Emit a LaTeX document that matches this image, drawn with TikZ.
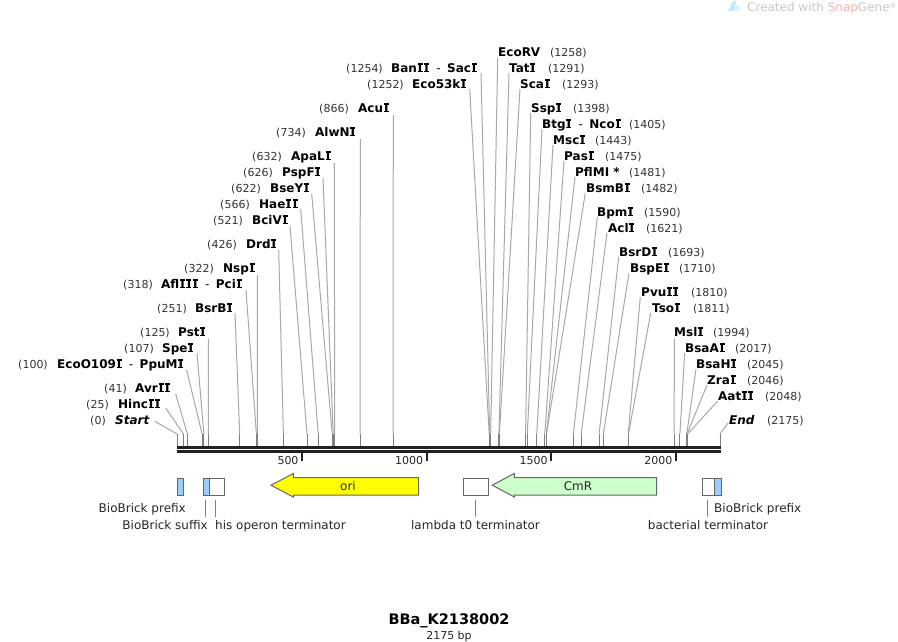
\documentclass[tikz,border=0pt]{standalone}
\usepackage{fontspec}
\setmainfont{DejaVu Sans}
\definecolor{stubcol}{HTML}{808080}
\definecolor{slantcol}{HTML}{A8A8A8}
\definecolor{edgecol}{HTML}{666666}
\definecolor{spine}{HTML}{222222}
\definecolor{biob}{HTML}{99CCFF}
\definecolor{cmrfill}{HTML}{CCFFCC}
\definecolor{orifill}{RGB}{255,255,0}
\tikzset{
  sitename/.style={inner sep=0pt,text=black,font=\fontsize{12}{14}\selectfont\bfseries},
  sitepos/.style={inner sep=0pt,text=black!80,font=\fontsize{11}{13}\selectfont},
  slant/.style={draw=slantcol,line width=1pt},
  stub/.style={draw=stubcol,line width=1pt},
  feat/.style={draw=edgecol,line width=1pt},
  featlabel/.style={inner sep=0pt,text=black!85,font=\fontsize{12}{14}\selectfont},
  featline/.style={draw=stubcol,line width=0.8pt},
  ticklabel/.style={inner sep=0pt,text=black!85,font=\fontsize{11}{13}\selectfont,anchor=base east},
  tickmark/.style={draw=spine,line width=2pt},
  backbone/.style={draw=spine,line width=3pt},
}
% capital I with slab serifs, as the reference face draws it
\newcommand\J{\rlap{\kern0.7pt\rule{5pt}{1.4pt}}\rlap{\kern0.7pt\raisebox{7.35pt}{\rule{5pt}{1.4pt}}}\makebox[6.4pt]{I}}
\newcommand\lsite[9]{%
  \node[sitename,anchor=base west] (n#1) at (#5,#6+4) {#3};
  \node[sitepos,anchor=base east] (p#1) at (#4,#6+4) {(#2)};
  \coordinate (t#1) at (#7,#8);
  \coordinate (m#1) at (#9-0.8,434);
  \coordinate (b#1) at (#9-0.8,446);
  \draw[slant] (t#1) -- (m#1);
  \draw[stub] (m#1) -- (b#1);
}
\newcommand\rsite[9]{%
  \node[sitename,anchor=base west] (n#1) at (#5,#6+4) {#3};
  \node[sitepos,anchor=base west] (p#1) at (#4,#6+4) {(#2)};
  \coordinate (t#1) at (#7,#8);
  \coordinate (m#1) at (#9-0.8,434);
  \coordinate (b#1) at (#9-0.8,446);
  \draw[slant] (t#1) -- (m#1);
  \draw[stub] (m#1) -- (b#1);
}
\newcommand\dashsep{\kern6.5pt{\mdseries -}\kern6.5pt}
\begin{document}
\begin{tikzpicture}[x=1pt,y=-1pt]
\useasboundingbox (0,0) rectangle (898,641);
% watermark
\fill[cyan!25] (733,1) -- (736,1) -- (734.5,11) -- (728,11) -- cycle;
\fill[cyan!15] (737,5) -- (740,9) -- (737,12) -- (735,9) -- cycle;
\node[inner sep=0pt,anchor=base west,font=\fontsize{12}{14}\selectfont,text=black!22] (wm) at (747,11) {Created with \textcolor{red!30}{Snap}Gene\raisebox{3pt}{\fontsize{7}{8}\selectfont®}};
% sites, left side
\lsite{a}{0}{\itshape Start}{106}{115}{420}{155}{421.5}{178}
\lsite{b}{25}{Hinc\J\J}{109}{118}{404}{165.7}{408}{184.2}
\lsite{c}{41}{Avr\J\J}{127}{135}{388}{175.7}{394}{188.2}
\lsite{d}{100}{EcoO109\J\dashsep PpuM\J}{48}{57}{364}{186.7}{370}{202.9}
\lsite{e}{107}{Spe\J}{154}{162}{348}{197}{353}{204.7}
\lsite{f}{125}{Pst\J}{170}{178}{332}{208.5}{339}{209.1}
\lsite{g}{251}{BsrB\J}{187}{195}{308}{235}{313}{240.5}
\lsite{h}{318}{Afl\J\J\J\dashsep Pci\J}{153}{161}{284}{246}{290}{257.2}
\lsite{i}{322}{Nsp\J}{214}{223}{268}{257.3}{275}{258.2}
\lsite{j}{426}{Drd\J}{237}{246}{244}{278.7}{250}{284.2}
\lsite{k}{521}{BciV\J}{243}{252}{220}{290}{226}{307.8}
\lsite{l}{566}{Hae\J\J}{250}{259}{204}{300.7}{209}{319}
\lsite{m}{622}{BseY\J}{261}{270}{188}{311.7}{194}{333}
\lsite{o}{626}{PspF\J}{273}{282}{172}{323}{178}{334}
\lsite{q}{632}{ApaL\J}{282}{291}{156}{334.3}{163}{335.5}
\lsite{r}{734}{AlwN\J}{306}{315}{132}{360.3}{139}{360.9}
\lsite{s}{866}{Acu\J}{349}{358}{108}{393.3}{115}{393.8}
\lsite{u}{1252}{Eco53k\J}{404}{412}{84}{469.7}{89}{490}
\lsite{v}{1254}{Ban\J\J\dashsep Sac\J}{383}{391}{68}{481}{73}{490.5}
% sites, right side
\rsite{A}{1258}{EcoRV}{550}{498}{52}{497.7}{58}{491.5}
\rsite{B}{1291}{Tat\J}{548}{509}{68}{509}{73}{499.7}
\rsite{C}{1293}{Sca\J}{562}{520}{84}{520}{89}{500.2}
\rsite{D}{1398}{Ssp\J}{573}{531}{108}{530.7}{113}{526.4}
\rsite{E}{1405}{Btg\J\dashsep Nco\J}{629}{542}{124}{542}{129}{528.1}
\rsite{F}{1443}{Msc\J}{595}{553}{140}{553}{145}{537.6}
\rsite{G}{1475}{Pas\J}{605}{564}{156}{564}{161}{545.6}
\rsite{H}{1481}{PflMI *}{629}{575}{172}{575}{177}{547.1}
\rsite{I}{1482}{BsmB\J}{641}{586}{188}{585.3}{193}{547.3}
\rsite{J}{1590}{Bpm\J}{644}{597}{212}{597.3}{217}{574.2}
\rsite{K}{1621}{Acl\J}{646}{608}{228}{607}{233}{582}
\rsite{L}{1693}{BsrD\J}{668}{619}{252}{618.7}{257}{599.9}
\rsite{M}{1710}{BspE\J}{679}{630}{268}{629}{273}{604.1}
\rsite{N}{1810}{Pvu\J\J}{691}{641}{292}{640.3}{297}{629}
\rsite{O}{1811}{Tso\J}{693}{652}{308}{650.7}{313}{629.3}
\rsite{P}{1994}{Msl\J}{713}{674}{332}{674.3}{339}{675}
\rsite{Q}{2017}{BsaA\J}{735}{685}{348}{684.7}{353}{680.7}
\rsite{R}{2045}{BsaH\J}{747}{696}{364}{696}{369}{687.6}
\rsite{S}{2046}{Zra\J}{747}{707}{380}{707}{385}{687.9}
\rsite{T}{2048}{Aat\J\J}{765}{718}{396}{717.7}{401}{688.4}
\rsite{U}{2175}{\itshape End}{767}{729}{420}{728}{423}{720.8}
% backbone
\coordinate (bbA) at (177,447.5);
\coordinate (bbB) at (721,447.5);
\coordinate (bbC) at (177,451.5);
\coordinate (bbD) at (721,451.5);
\draw[backbone] (bbA) -- (bbB);
\draw[backbone] (bbC) -- (bbD);
% ticks
\foreach \tx/\tl/\tn in {302.2/500/ta,426.8/1000/tb,551.4/1500/tc,676/2000/td}{
  \coordinate (\tn u) at (\tx,453);
  \coordinate (\tn d) at (\tx,461);
  \draw[tickmark] (\tn u) -- (\tn d);
  \node[ticklabel] (\tn l) at (\tx-3.5,464) {\tl};
}
% features
\node[feat,fill=biob,minimum width=6pt,minimum height=17.5pt,inner sep=0pt,anchor=north west] (fa) at (177.3,477.5) {};
\node[feat,fill=biob,minimum width=6pt,minimum height=17.5pt,inner sep=0pt,anchor=north west] (fb) at (203.3,477.5) {};
\node[feat,fill=white,minimum width=14.5pt,minimum height=17.5pt,inner sep=0pt,anchor=north west] (fc) at (209.3,477.5) {};
\node[feat,fill=white,minimum width=24.4pt,minimum height=17.5pt,inner sep=0pt,anchor=north west] (fd) at (463.3,477.5) {};
\node[feat,fill=white,minimum width=11.7pt,minimum height=17.5pt,inner sep=0pt,anchor=north west] (ff) at (702.3,477.5) {};
\node[feat,fill=biob,minimum width=6.5pt,minimum height=17.5pt,inner sep=0pt,anchor=north west] (fg) at (714,477.5) {};
\draw[feat,fill=orifill] (418.7,477.5) -- (293.3,477.5) -- (293.3,473.5) -- (271,485.2) -- (293.3,497) -- (293.3,495) -- (418.7,495) -- cycle;
\node[inner sep=0pt,font=\fontsize{12}{14}\selectfont,text=black!85,anchor=base] (ori) at (348,490) {ori};
\draw[feat,fill=cmrfill] (656.7,477.5) -- (514.3,477.5) -- (514.3,473.5) -- (492.3,485.2) -- (514.3,497) -- (514.3,495) -- (656.7,495) -- cycle;
\node[inner sep=0pt,font=\fontsize{12}{14}\selectfont,text=black!85,anchor=base] (cmr) at (578,490) {CmR};
% feature labels
\node[featlabel,anchor=base east] (la) at (186,512) {BioBrick prefix};
\node[featlabel,anchor=base east] (lb) at (208,529) {BioBrick suffix};
\node[featlabel,anchor=base west] (lc) at (215,529) {his operon terminator};
\node[featlabel,anchor=base] (ld) at (475.5,529) {lambda t0 terminator};
\node[featlabel,anchor=base] (lf) at (708,529) {bacterial terminator};
\node[featlabel,anchor=base west] (lg) at (714,512) {BioBrick prefix};
\foreach \lx/\ln in {205.5/a,215.5/b,475.5/c,707.5/d}{
  \coordinate (ft\ln) at (\lx,500);
  \coordinate (fb\ln) at (\lx,517);
  \draw[featline] (ft\ln) -- (fb\ln);
}
% title
\node[inner sep=0pt,anchor=base,font=\fontsize{14.5}{16}\selectfont\bfseries,text=black] (title) at (449,624) {BBa\_K2138002};
\node[inner sep=0pt,anchor=base,font=\fontsize{11}{13}\selectfont,text=black!85] (size) at (449,639) {2175 bp};
\end{tikzpicture}
\end{document}
